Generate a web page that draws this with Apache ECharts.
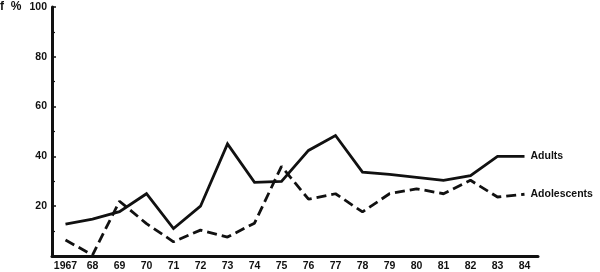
<!DOCTYPE html>
<html><head><meta charset="utf-8">
<script src="https://cdn.jsdelivr.net/npm/echarts@6/dist/echarts.min.js"></script>
<style>html,body{margin:0;padding:0;background:#fff}#c{width:600px;height:272px}</style>
</head><body><div id="c"></div>
<script>
const years = ['1967','68','69','70','71','72','73','74','75','76','77','78','79','80','81','82','83','84'];
const adults = [12.8,14.8,17.8,25,11,20,45,29.6,30,42.4,48.4,33.7,32.8,31.6,30.4,32.3,40,40];
const adolescents = [6.4,0.4,22,13,5.7,10.4,7.6,13.2,36,22.8,25,17.7,25,27,25,30.4,23.7,24.8];
const yTicks = [20,40,60,80,100];

const ink = '#111';
const chart = echarts.init(document.getElementById('c'), null, {renderer:'canvas'});
const font = {fontFamily:'Liberation Sans', fontWeight:'bold', fontSize:10.5, color:ink};
chart.setOption({
  animation:false,
  grid:{left:52,right:62,top:7,bottom:16},
  graphic:[{type:'text',left:0,top:1,style:{text:'f  %',font:'bold 12px "Liberation Sans"',fill:ink}}],
  xAxis:{type:'category',data:years,boundaryGap:true,
    axisLine:{lineStyle:{color:ink,width:3}},
    axisTick:{alignWithLabel:true,inside:true,length:5,lineStyle:{color:ink,width:1.5}},
    axisLabel:Object.assign({margin:5,interval:0},font),
    splitLine:{show:false}},
  yAxis:{type:'value',min:0,max:100,interval:20,
    axisLine:{show:true,lineStyle:{color:ink,width:3}},
    axisTick:{show:true,inside:true,length:4,lineStyle:{color:ink,width:1.5}},
    minorTick:{show:true,splitNumber:2,length:3,lineStyle:{color:ink,width:1.2}},
    axisLabel:Object.assign({margin:5,formatter:v=>yTicks.includes(v)?String(v):''},font),
    splitLine:{show:false}},
  series:[
    {name:'Adults',type:'line',data:adults,symbol:'none',
     lineStyle:{color:ink,width:2.8,join:'miter'},
     endLabel:{show:true,formatter:'Adults',distance:6,...font}},
    {name:'Adolescents',type:'line',data:adolescents,symbol:'none',
     lineStyle:{color:ink,width:2.8,type:[10,5]},
     endLabel:{show:true,formatter:'Adolescents',distance:6,...font}}
  ]
});
</script></body></html>
